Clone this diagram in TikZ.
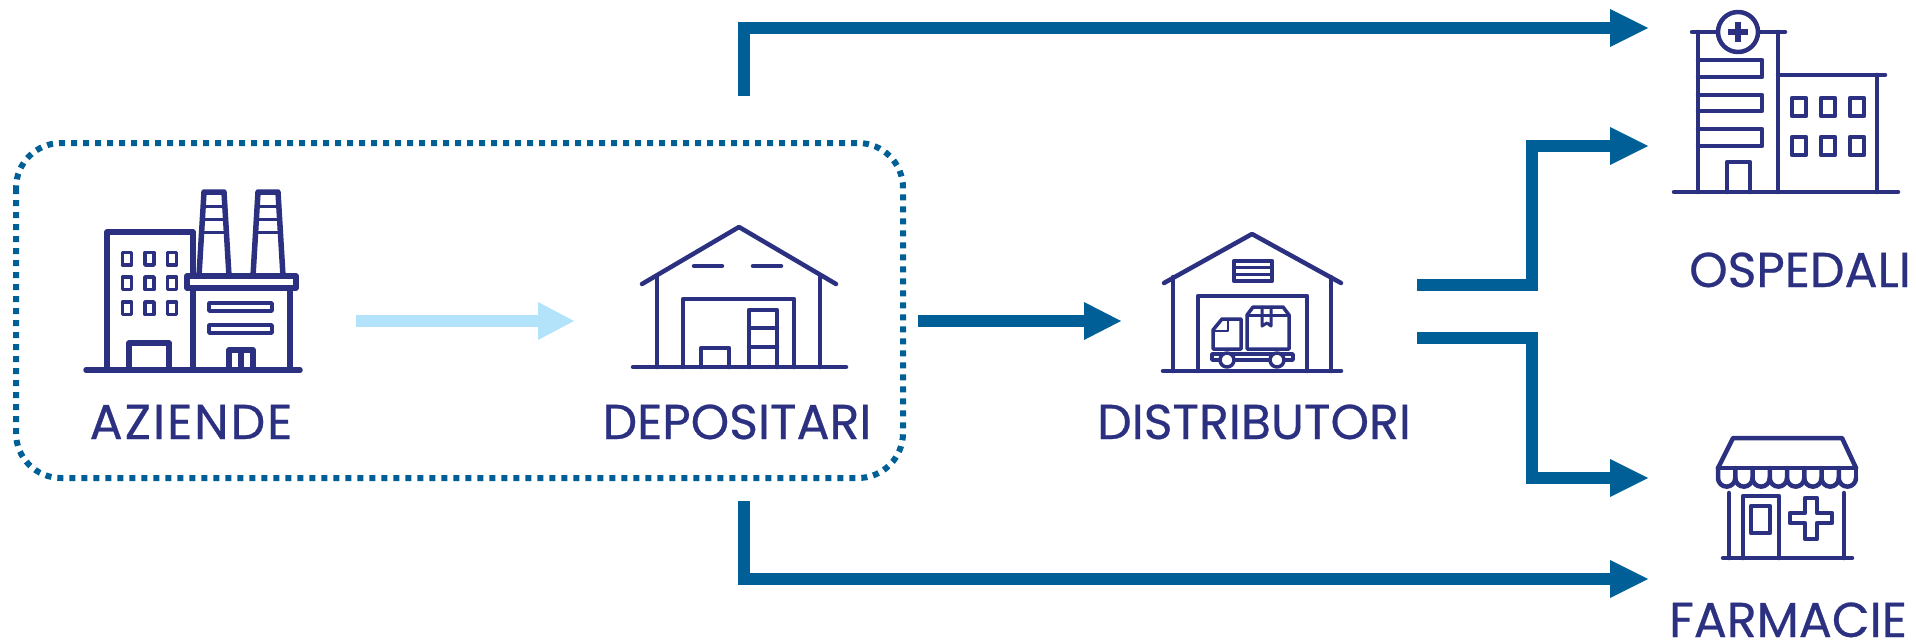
\documentclass[tikz,border=0pt]{standalone}
\usepackage{fontspec}
\setmainfont{Poppins}[FakeBold=0.5]
\definecolor{navy}{HTML}{2B3180}
\definecolor{blu}{HTML}{005F96}
\definecolor{sky}{HTML}{B3E3FB}
\tikzset{
 ico/.style={draw=navy,line width=5.5pt,line cap=round,line join=round},
 thin ico/.style={draw=navy,line width=4.5pt,line cap=round,line join=round},
 flow/.style={draw=blu,line width=12pt},
 tip/.style={fill=blu},
 lab/.style={text=navy,font=\fontsize{49}{49}\selectfont,inner sep=0pt,anchor=base}
}
\begin{document}
\begin{tikzpicture}[x=1pt,y=-1pt]
\useasboundingbox (0,0) rectangle (1916,642);
\fill[white] (0,0) rectangle (1916,642);
\draw[blu,line width=6pt,dash pattern=on 6pt off 6pt,rounded corners=45pt] (16,143) rectangle (903,478);
% connectors
\coordinate (a1) at (744,96); \coordinate (a2) at (1610,28);
\draw[flow] (a1) |- (a2);
\fill[tip] (1610,9) -- (1648,28) -- (1610,47) -- cycle;
\coordinate (b1) at (744,501); \coordinate (b2) at (1610,579);
\draw[flow] (b1) |- (b2);
\fill[tip] (1610,560) -- (1648,579) -- (1610,598) -- cycle;
\coordinate (c1) at (356,321); \coordinate (c2) at (538,321);
\draw[draw=sky,line width=12pt] (c1) -- (c2);
\fill[sky] (538,302) -- (574,321) -- (538,340) -- cycle;
\coordinate (d1) at (918,321); \coordinate (d2) at (1084,321);
\draw[flow] (d1) -- (d2);
\fill[tip] (1084,302) -- (1121,321) -- (1084,340) -- cycle;
\coordinate (e1) at (1417,285); \coordinate (e2) at (1532,146); \coordinate (e3) at (1610,146);
\draw[flow] (e1) -| (e2) -- (e3);
\fill[tip] (1610,127) -- (1648,146) -- (1610,165) -- cycle;
\coordinate (f1) at (1417,338); \coordinate (f2) at (1532,478); \coordinate (f3) at (1610,478);
\draw[flow] (f1) -| (f2) -- (f3);
\fill[tip] (1610,459) -- (1648,478) -- (1610,497) -- cycle;
% factory
\begin{scope}[ico]
\draw (86,370) -- (300,370);
\draw (107,370) -- (107,232) -- (193,232) -- (193,276);
\draw (193,288) -- (193,370) (290,288) -- (290,370);
\draw (187,276) rectangle (296,288);
\draw (129,370) -- (129,343) -- (169,343) -- (169,370);
\draw (199,276) -- (204,192) -- (224,192) -- (229,276);
\draw (253,276) -- (258,192) -- (278,192) -- (283,276);
\draw (229,370) -- (229,350) -- (253,350) -- (253,370) (241,350) -- (241,370);
\end{scope}
\begin{scope}[thin ico,line width=3.5pt]
\foreach \x in {122.5,145,167.5}{\foreach \y in {252.5,277,302}{
 \draw (\x,\y) rectangle +(9,12.5);}}
\draw (209,303) rectangle (272,311);
\draw (209,325) rectangle (272,333);
\draw[line width=3pt] (204,206) -- (224,206) (203,219) -- (225,219) (202,232) -- (226,232);
\draw[line width=3pt] (258,206) -- (278,206) (257,219) -- (279,219) (256,232) -- (280,232);
\end{scope}
% depot
\begin{scope}[thin ico]
\draw (633,367) -- (846,367);
\draw (642,284) -- (739,227) -- (836,284);
\draw (657,276) -- (657,367) (820,276) -- (820,367);
\draw (683,367) -- (683,299) -- (794,299) -- (794,367);
\draw (694,266) -- (722,266) (753,266) -- (781,266);
\draw (701,367) -- (701,348) -- (729,348) -- (729,367);
\draw (749,367) -- (749,310) -- (777,310) -- (777,367) (749,328) -- (777,328) (749,347) -- (777,347);
\end{scope}
% distributor
\begin{scope}[thin ico]
\draw (1163,371) -- (1341,371);
\draw (1164,283) -- (1252,234) -- (1341,283);
\draw (1173,277) -- (1173,371) (1331,277) -- (1331,371);
\draw (1198,371) -- (1198,296) -- (1307,296) -- (1307,371);
\draw (1234,261) rectangle (1272,281);
\draw[line width=3pt] (1234,267.5) -- (1272,267.5) (1234,274.5) -- (1272,274.5);
\draw[line width=3.5pt] (1213,349) -- (1213,330) -- (1222,319) -- (1241,319) -- (1241,349) -- cycle;
\draw[line width=2.5pt] (1213,331) -- (1228,331) -- (1228,319);
\draw[line width=3.5pt] (1247,349) -- (1247,315) -- (1253,307) -- (1283,307) -- (1289,315) -- (1289,349) -- cycle;
\draw[line width=3pt] (1247,315) -- (1289,315);
\draw[line width=3pt] (1262,307) -- (1262,326) -- (1267,323) -- (1271,326) -- (1271,307);
\draw[line width=3.5pt] (1212,354) rectangle (1293,360);
\draw[line width=3.5pt,fill=white] (1227,360) circle (7);
\draw[line width=3.5pt,fill=white] (1277,360) circle (7);
\end{scope}
% hospital
\begin{scope}[thin ico]
\draw (1674,192) -- (1898,192);
\draw (1698,32) -- (1698,192) (1778,32) -- (1778,192) (1877,75) -- (1877,192);
\draw (1692,32) -- (1718,32) (1758,32) -- (1785,32);
\draw (1778,75) -- (1885,75);
\draw[fill=white] (1738,32) circle (20);
\draw[line cap=butt,line width=6pt] (1728,32) -- (1748,32) (1738,22) -- (1738,42);
\foreach \y/\z in {60/77,95/111,129/146}{
 \draw (1698,\y) -- (1762,\y) -- (1762,\z) -- (1698,\z);}
\draw (1727,192) -- (1727,162) -- (1750,162) -- (1750,192);
\foreach \x in {1792,1821,1850}{\foreach \y in {98,137}{
 \draw (\x,\y) rectangle +(14,18);}}
\end{scope}
% pharmacy
\begin{scope}[thin ico]
\draw (1723,558) -- (1852,558);
\draw (1718,468) -- (1733,438) -- (1842,438) -- (1856,468);
\draw (1718,468) -- (1856,468);
\foreach \i in {0,...,7}{
 \draw ({1718+\i*17.25},468) -- ({1718+\i*17.25},478) arc (180:0:8.625);}
\draw (1856,468) -- (1856,478);
\draw (1729,493) -- (1729,558) (1844,493) -- (1844,558);
\draw (1743,558) -- (1743,496) -- (1779,496) -- (1779,558);
\draw (1751,506) rectangle (1770,533);
\draw (1805,498) -- (1817,498) -- (1817,513) -- (1832,513) -- (1832,523) -- (1817,523) -- (1817,539) -- (1805,539) -- (1805,523) -- (1790,523) -- (1790,513) -- (1805,513) -- cycle;
\end{scope}
% labels
\node[lab] (az) at (191,439) {\addfontfeature{LetterSpace=4}AZIENDE};
\node[lab] (de) at (737,439) {DEPOSITARI};
\node[lab] (di) at (1254,439) {DISTRIBUTORI};
\node[lab] (os) at (1800,287) {OSPEDALI};
\node[lab] (fa) at (1788,637) {FARMACIE};
\end{tikzpicture}
\end{document}
